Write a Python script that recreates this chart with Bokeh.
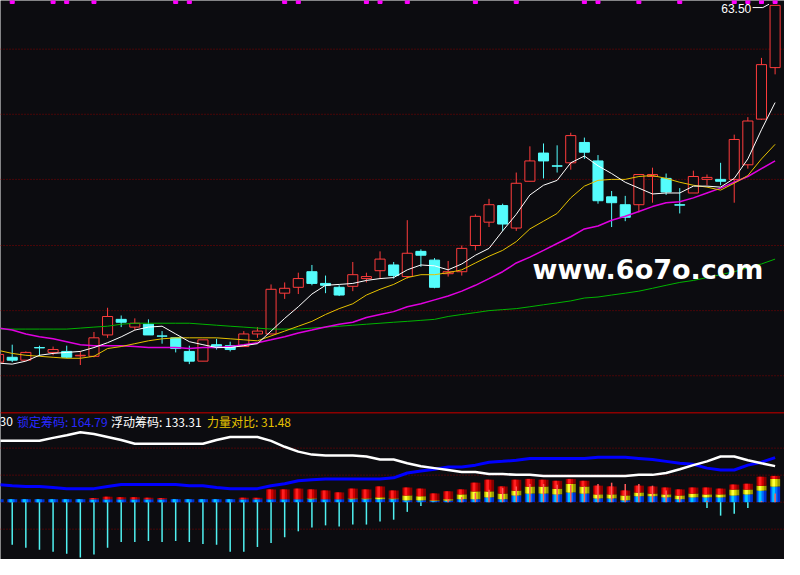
from bokeh.plotting import figure
from bokeh.models import Range1d, Span, Label
from bokeh.embed import file_html
from bokeh.resources import INLINE

BG = "#0c0c10"

# ---- daily candles (price) ----
opens = [31.23, 31.67, 31.41, 32.55, 32.11, 32.20, 31.80, 31.76, 33.69, 35.10,
         34.40, 34.66, 33.60, 33.43, 32.20, 31.32, 32.81, 32.72, 32.64, 33.78,
         33.78, 37.47, 38.00, 39.41, 38.35, 38.00, 38.09, 38.79, 39.50, 40.02,
         38.97, 41.25, 40.46, 39.23, 39.41, 41.78, 43.89, 45.39, 43.36, 47.59,
         50.14, 48.99, 49.26, 51.10, 49.43, 46.18, 45.47, 45.47, 48.02, 47.85,
         45.47, 46.53, 47.76, 47.76, 47.76, 49.08, 53.21, 57.87]
highs = [32.11, 32.81, 32.20, 32.72, 32.64, 32.72, 32.20, 33.96, 36.15, 35.45,
         35.19, 35.10, 34.04, 33.43, 32.72, 33.25, 33.34, 33.08, 34.04, 34.40,
         38.26, 38.44, 39.32, 40.02, 39.06, 38.18, 40.29, 39.32, 41.25, 40.29,
         44.07, 41.43, 40.64, 40.38, 41.78, 44.60, 46.00, 45.56, 48.38, 50.75,
         51.01, 50.84, 51.98, 51.54, 49.96, 46.71, 46.27, 48.20, 48.82, 48.29,
         46.97, 48.55, 48.20, 49.26, 51.81, 53.39, 58.75, 63.50]
lows = [31.05, 31.23, 31.41, 31.76, 31.85, 31.58, 30.97, 31.67, 33.43, 34.40,
        34.13, 33.69, 32.90, 32.11, 31.05, 31.32, 32.37, 32.20, 32.64, 33.43,
        33.78, 36.95, 37.39, 38.18, 37.47, 37.21, 37.65, 38.44, 38.79, 38.79,
        38.79, 39.85, 37.91, 38.97, 39.06, 41.34, 43.45, 43.10, 43.10, 47.59,
        47.85, 48.38, 48.64, 49.61, 45.56, 43.45, 43.98, 44.77, 45.65, 46.35,
        44.68, 46.53, 47.23, 47.23, 45.65, 48.73, 53.13, 57.26]
closes = [31.93, 31.41, 32.11, 32.52, 32.37, 31.67, 31.85, 33.43, 35.36, 34.84,
          34.75, 33.69, 33.58, 32.46, 31.32, 33.25, 32.55, 32.37, 33.78, 34.04,
          37.82, 37.91, 38.79, 38.35, 38.18, 37.30, 39.14, 38.97, 40.55, 39.06,
          41.08, 40.90, 38.00, 39.41, 41.52, 44.42, 45.47, 43.72, 47.41, 49.43,
          49.43, 48.95, 51.72, 50.22, 45.83, 45.65, 44.33, 48.20, 48.20, 46.62,
          45.43, 48.02, 47.94, 47.59, 51.37, 53.04, 58.14, 63.50]

ma5 = [31.14, 31.05, 31.32, 31.85, 32.02, 32.11, 32.20, 32.55, 32.99, 33.52,
       34.13, 34.40, 34.48, 33.78, 33.08, 32.81, 32.55, 32.55, 32.72, 32.90,
       34.04, 35.19, 36.24, 37.39, 38.18, 38.26, 38.35, 38.62, 38.79, 38.88,
       39.58, 40.02, 39.94, 39.58, 40.11, 40.90, 41.52, 43.10, 44.60, 46.35,
       47.23, 47.67, 49.26, 49.87, 48.99, 48.29, 47.50, 46.97, 46.44, 46.53,
       46.53, 47.15, 47.15, 47.06, 47.85, 49.61, 52.25, 54.71]
ma10 = [32.29, 32.02, 31.85, 31.76, 31.67, 31.58, 31.58, 31.76, 32.46, 32.64,
        32.90, 33.16, 33.34, 33.43, 33.43, 33.43, 33.43, 33.34, 33.25, 33.16,
        33.60, 34.04, 34.48, 34.92, 35.54, 36.07, 36.51, 37.30, 37.82, 38.26,
        38.88, 39.14, 39.14, 39.32, 39.58, 40.20, 40.81, 41.34, 42.13, 43.28,
        43.98, 44.68, 46.09, 47.15, 47.67, 47.76, 47.76, 48.02, 48.11, 47.85,
        47.50, 47.23, 47.06, 46.79, 47.41, 48.11, 49.61, 50.93]
ma20 = [34.31, 34.13, 33.78, 33.52, 33.34, 33.08, 32.81, 32.72, 32.72, 32.72,
        32.64, 32.55, 32.55, 32.55, 32.46, 32.55, 32.55, 32.64, 32.81, 32.99,
        33.25, 33.52, 33.87, 34.13, 34.40, 34.66, 34.84, 35.27, 35.54, 35.80,
        36.24, 36.51, 36.86, 37.21, 37.65, 38.18, 38.79, 39.41, 40.20, 40.73,
        41.34, 41.96, 42.57, 43.28, 43.54, 44.07, 44.42, 44.86, 45.30, 45.65,
        45.74, 46.09, 46.53, 46.97, 47.50, 48.02, 48.73, 49.43]
ma60 = [34.22, 34.22, 34.22, 34.22, 34.22, 34.22, 34.31, 34.40, 34.48, 34.66,
        34.75, 34.75, 34.75, 34.75, 34.75, 34.66, 34.57, 34.48, 34.40, 34.31,
        34.22, 34.22, 34.22, 34.31, 34.40, 34.48, 34.57, 34.66, 34.75, 34.84,
        34.92, 35.01, 35.10, 35.36, 35.54, 35.71, 35.89, 35.98, 36.07, 36.24,
        36.42, 36.59, 36.77, 37.03, 37.12, 37.30, 37.47, 37.65, 37.91, 38.18,
        38.44, 38.62, 38.88, 39.14, 39.41, 39.76, 40.11, 40.55]

# days flagged by the magenta marks along the top edge
signal_idx = [1, 4, 5, 7, 13, 14, 21, 22, 27, 28, 30, 35, 38, 43, 44, 47,
              50, 54, 55, 56, 57]

# ---- lower indicator ----
float_chips = [227, 227, 227, 227, 238, 248, 259, 252, 241, 230,
               216, 216, 216, 216, 216, 216, 230, 241, 241, 241,
               227, 205, 187, 176, 173, 173, 173, 169, 158, 158,
               144, 133, 126, 119, 112, 112, 104, 104, 101, 101,
               97, 97, 97, 97, 97, 97, 97, 101, 101, 108,
               122, 137, 151, 169, 169, 155, 144, 133.31]
lock_chips = [65, 61, 58, 58, 54, 50, 50, 50, 58, 65,
              65, 65, 65, 65, 61, 61, 54, 50, 50, 50,
              61, 68, 79, 83, 86, 86, 86, 86, 86, 90,
              108, 115, 122, 130, 130, 137, 148, 151, 155, 162,
              162, 162, 162, 162, 166, 166, 166, 162, 158, 151,
              144, 140, 126, 119, 119, 137, 148, 164.79]
bar_blue = [11, 11, 11, 11, 11, 11, 11, 11, 11, 11,
            11, 11, 11, 11, 11, 11, 11, 11, 11, 11,
            11, 11, 11, 11, 11, 11, 11, 11, 11, 11,
            7, 7, 4, 6, 11, 11, 18, 11, 25, 32,
            32, 29, 36, 32, 14, 14, 7, 22, 22, 18,
            11, 18, 18, 18, 25, 29, 43, 58]
bar_yellow = [11, 11, 11, 11, 11, 11, 11, 11, 11, 11,
              11, 11, 11, 11, 11, 11, 11, 11, 11, 11,
              11, 11, 11, 14, 11, 11, 14, 14, 18, 14,
              25, 22, 7, 11, 29, 40, 40, 32, 43, 58,
              58, 50, 68, 58, 29, 29, 25, 36, 32, 29,
              25, 32, 29, 29, 47, 47, 61, 86]
bar_red = [11, 11, 11, 11, 11, 11, 11, 15, 20, 18,
           18, 16, 15, 11, 11, 11, 11, 11, 16, 16,
           47, 47, 50, 47, 43, 36, 50, 47, 58, 43,
           54, 50, 32, 40, 47, 72, 83, 58, 83, 86,
           83, 79, 86, 79, 61, 58, 43, 61, 58, 54,
           47, 54, 54, 50, 65, 68, 94, 97]
power = [0, 0, 0, 0, 0, 0, 0, 0, 0, 0,
         0, 0, 0, 0, 0, 0, 0, 0, 0, 0,
         0, 0, 0, 0, 0, 0, 0, 0, 0, 0,
         0, 0, 0, 12, 19, 34, 46, 52, 58, 67,
         67, 64, 64, 58, 67, 72, 67, 67, 61, 43,
         22, 0, 5, 0, 0, 0, 4, 32]
weak = [-150, -158, -169, -176, -184, -191, -205, -194, -169, -148,
        -148, -144, -148, -144, -148, -155, -158, -184, -184, -166,
        -151, -130, -108, -94, -86, -90, -83, -83, -72, -65,
        -36, -14, 0, 0, 0, 0, 0, 0, 0, 0,
        0, 0, 0, 0, 0, 0, 0, 0, 0, 0,
        0, 0, -22, -50, -43, -22, 0, 0]

grid_prices = [30.0, 35.89, 41.78, 47.76, 53.65, 59.54]
grid_sub = [-100, 0, 100, 200]
panel_split = 26.66

idx = list(range(len(closes)))
n = len(idx)

p = figure(width=784, height=559, output_backend="svg", toolbar_location=None,
           x_range=Range1d(0.14, 57.69), y_range=Range1d(13.38, 63.94),
           x_axis_location=None, y_axis_location=None, min_border=0,
           background_fill_color=BG, border_fill_color=BG, outline_line_color=None)
p.extra_y_ranges = {"sub": Range1d(-212.4, 1857.6)}
p.grid.visible = False

# dotted grid sits under everything else
grid_kw = dict(dimension="width", line_color="#860000", line_dash="1 2", line_width=1,
               level="underlay")
for g in grid_prices:
    p.add_layout(Span(location=g, **grid_kw))
for g in grid_sub:
    p.add_layout(Span(location=g, y_range_name="sub", **grid_kw))
p.add_layout(Span(location=panel_split, dimension="width", line_color="#8c0000",
                  line_width=1.5, level="underlay"))

# candles
up = [c >= o for o, c in zip(opens, closes)]
wick_col = ["#ff3c3c" if u else "#54fcfc" for u in up]
fill_col = [BG if u else "#54fcfc" for u in up]
p.segment(x0=idx, y0=highs, x1=idx, y1=lows, color=wick_col, line_width=1)
p.vbar(x=idx, width=0.74, top=[max(o, c) for o, c in zip(opens, closes)],
       bottom=[min(o, c) for o, c in zip(opens, closes)],
       fill_color=fill_col, line_color=wick_col, line_width=1)

p.line(idx, ma60, color="#00b400", line_width=1)
p.line(idx, ma20, color="#e000e0", line_width=1.5)
p.line(idx, ma10, color="#e6c200", line_width=1)
p.line(idx, ma5, color="#ffffff", line_width=1)

# signal marks along the top border
p.rect(x=signal_idx, y=[p.y_range.end] * len(signal_idx), width=4, height=6,
       width_units="screen", height_units="screen", color="#ff00ff")

# high label
p.add_layout(Label(x=n - 1 - 1.75, y=highs[-1], y_offset=-3, text=f"{max(highs):.2f}",
                   text_align="right", text_baseline="middle", text_color="#ffffff",
                   text_font="Liberation Sans", text_font_size="12px"))
p.line([n - 1 - 1.65, n - 1 - 0.9, n - 1 - 0.45],
       [highs[-1] - 0.2, highs[-1] - 0.2, highs[-1] + 0.1], color="#ffffff", line_width=1)


# lower panel: stacked cylinders
def cylinder(bottom, top, shades):
    for w, dx, c in zip([0.74, 0.46, 0.2], [0, -0.06, -0.1], shades):
        p.vbar(x=[i + dx for i in idx], width=w, bottom=bottom, top=top,
               fill_color=c, line_color=None, y_range_name="sub")


zeros = [0] * n
cylinder(zeros, bar_blue, ["#0030d0", "#0070ff", "#00c8ff"])
cylinder(bar_blue, bar_yellow, ["#9a9a00", "#d6d600", "#ffff3c"])
cylinder(bar_yellow, bar_red, ["#860000", "#d00000", "#ff2020"])
p.segment(x0=idx, y0=zeros, x1=idx, y1=power, color="#ff5a5a", line_width=1.5,
          y_range_name="sub")
p.segment(x0=idx, y0=zeros, x1=idx, y1=weak, color="#50f0f0", line_width=1.5,
          y_range_name="sub")

p.line(idx, lock_chips, color="#0000ff", line_width=3, y_range_name="sub")
p.line(idx, float_chips, color="#ffffff", line_width=2.5, y_range_name="sub")

# header of lower panel
head_y = 138
for x, txt, col in [(-1, "30", "#ffffff"),
                    (16.5, f"锁定筹码: {lock_chips[-1]:.2f}", "#2828ff"),
                    (110.5, f"浮动筹码: {float_chips[-1]:.2f}", "#ffffff"),
                    (206.5, f"力量对比: {lock_chips[-1] - float_chips[-1]:.2f}", "#e6c200")]:
    p.add_layout(Label(x=x, y=head_y, x_units="screen", y_units="screen", text=txt,
                       text_baseline="middle", text_color=col,
                       text_font="Noto Sans CJK SC", text_font_size="12px"))

# watermark
p.add_layout(Label(x=532, y=290, x_units="screen", y_units="screen", text="www.6o7o.com",
                   text_baseline="alphabetic", text_color="#ffffff", text_font="DejaVu Sans",
                   text_font_style="bold", text_font_size="27px"))

open("out.html", "w").write(file_html(p, INLINE))
